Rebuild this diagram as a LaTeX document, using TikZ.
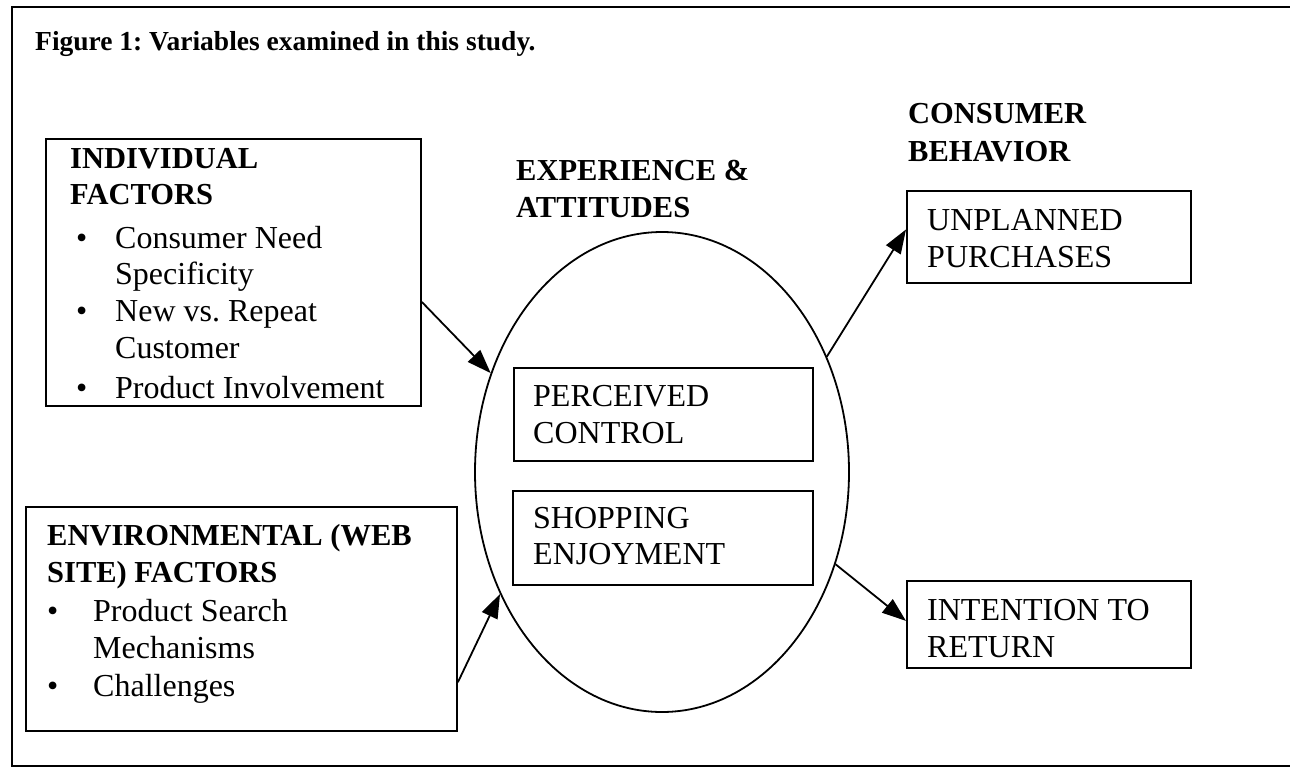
\documentclass[tikz,border=0pt]{standalone}
\usepackage{fontspec}
\setmainfont{Liberation Serif}
\usetikzlibrary{shapes.geometric,arrows.meta,calc}
\frenchspacing
\begin{document}
\begin{tikzpicture}[x=1pt,y=-1pt,
  box/.style={draw, line width=1.9pt, inner sep=0pt, anchor=north west},
  hd/.style={anchor=base west, inner sep=0pt, font=\fontsize{30.5}{37}\selectfont\bfseries},
  bd/.style={anchor=base west, inner sep=0pt, font=\fontsize{32}{37}\selectfont},
  arr/.style={line width=1.8pt, -{Triangle[length=24pt,width=17pt]}}]
\useasboundingbox (0,0) rectangle (1290,771);
\fill[white] (0,0) rectangle (1290,771);
% outer frame
\draw[line width=1.8pt] (1290,7) -- (12,7) -- (12,766) -- (1290,766);
% title
\node[anchor=base west, inner sep=0pt, font=\fontsize{27.5}{33}\selectfont\bfseries] (title) at (35,50) {Figure 1: Variables examined in this study.};
% ellipse
\node[draw, ellipse, line width=1.8pt, minimum width=374pt, minimum height=480pt, inner sep=0pt] (ell) at (662,472) {};
% boxes
\node[box, minimum width=375pt, minimum height=267pt] (ind) at (45,138) {};
\node[box, minimum width=431pt, minimum height=224pt] (env) at (25,506) {};
\node[box, minimum width=299pt, minimum height=93pt] (pc) at (513,367) {};
\node[box, minimum width=300pt, minimum height=94pt] (se) at (512,490) {};
\node[box, minimum width=284pt, minimum height=92pt] (up) at (906,190) {};
\node[box, minimum width=284pt, minimum height=87pt] (ir) at (906,580) {};
% individual factors
\node[hd] (ind1) at (70,168) {INDIVIDUAL};
\node[hd] (ind2) at (70,204) {FACTORS};
\node[bd] (indb1) at (76,248) {\textbullet};
\node[bd] (indt1) at (115,248) {Consumer Need};
\node[bd] (indt2) at (115,284) {Specificity};
\node[bd] (indb3) at (76,321) {\textbullet};
\node[bd] (indt3) at (115,321) {New vs. Repeat};
\node[bd] (indt4) at (115,358) {Customer};
\node[bd] (indb5) at (76,398) {\textbullet};
\node[bd] (indt5) at (115,398) {Product Involvement};
% environmental factors
\node[hd] (env1) at (47,545) {ENVIRONMENTAL (WEB};
\node[hd] (env2) at (47,582) {SITE) FACTORS};
\node[bd] (envb1) at (47,621) {\textbullet};
\node[bd] (envt1) at (93,621) {Product Search};
\node[bd] (envt2) at (93,658) {Mechanisms};
\node[bd] (envb3) at (47,696) {\textbullet};
\node[bd] (envt3) at (93,696) {Challenges};
% experience
\node[hd] (exp1) at (516,180) {EXPERIENCE \&};
\node[hd] (exp2) at (516,217) {ATTITUDES};
\node[bd] (pc1) at (533,406) {PERCEIVED};
\node[bd] (pc2) at (533,443) {CONTROL};
\node[bd] (se1) at (533,528) {SHOPPING};
\node[bd] (se2) at (533,564) {ENJOYMENT};
% consumer behavior
\node[hd] (cb1) at (908,123) {CONSUMER};
\node[hd] (cb2) at (908,161) {BEHAVIOR};
\node[bd] (up1) at (927,230) {UNPLANNED};
\node[bd] (up2) at (927,267) {PURCHASES};
\node[bd] (ir1) at (927,620) {INTENTION TO};
\node[bd] (ir2) at (927,657) {RETURN};
% arrows
\draw[arr] ($(ind.north east)!0.61!(ind.south east)$) -- (ell.150.5);
\draw[arr] ($(env.north east)!0.78!(env.south east)$) -- (ell.217);
\draw[arr] (ell.35) -- ($(up.north west)!0.42!(up.south west)$);
\draw[arr] (ell.332) -- ($(ir.north west)!0.46!(ir.south west)$);
\end{tikzpicture}
\end{document}
